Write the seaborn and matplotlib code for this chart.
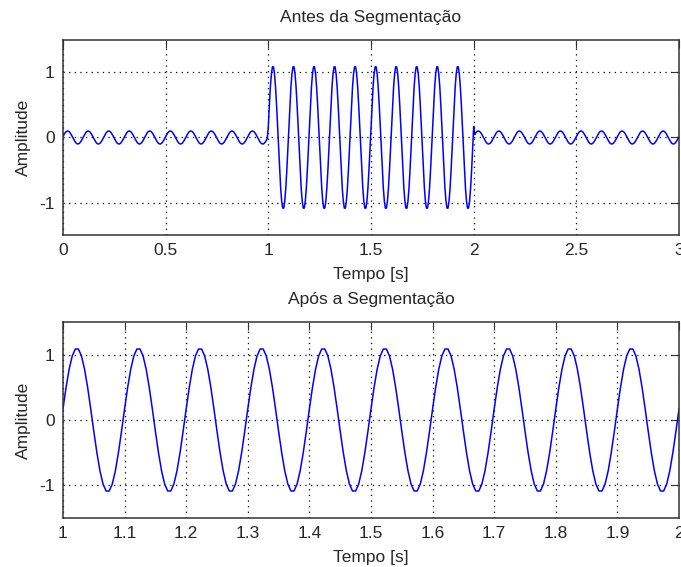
import numpy as np
import pandas as pd
import matplotlib
matplotlib.use("Agg")
import matplotlib.pyplot as plt
import seaborn as sns

# Signal description: a 10 Hz sine whose amplitude changes per segment
seg_edges = [0.0, 1.0, 2.0, 3.0]        # segment boundaries [s]
seg_amp = [0.1, 1.1, 0.1]               # amplitude in each segment
freq_hz = 10.0                          # sine frequency
phase_rad = 0.157                       # initial phase
fs_hz = 200                             # sampling rate

top_xticks = [0, 0.5, 1, 1.5, 2, 2.5, 3]
top_xlabels = ["0", "0.5", "1", "1.5", "2", "2.5", "3"]
bot_xticks = [1.0, 1.1, 1.2, 1.3, 1.4, 1.5, 1.6, 1.7, 1.8, 1.9, 2.0]
bot_xlabels = ["1", "1.1", "1.2", "1.3", "1.4", "1.5", "1.6", "1.7", "1.8", "1.9", "2"]
yticks = [-1, 0, 1]
ylabels = ["-1", "0", "1"]

titles = ["Antes da Segmentação", "Após a Segmentação"]
xlabel = "Tempo [s]"
ylabel = "Amplitude"

# sampled signal
t = np.arange(seg_edges[0], seg_edges[-1] + 1e-9, 1.0 / fs_hz)
amp = np.select(
    [(t >= seg_edges[i]) & (t < seg_edges[i + 1]) if i < len(seg_amp) - 1
     else (t >= seg_edges[i]) for i in range(len(seg_amp))],
    seg_amp)
amp[np.isclose(t, seg_edges[2])] = seg_amp[1]
x = amp * np.sin(2 * np.pi * freq_hz * t + phase_rad)
df = pd.DataFrame({"t": t, "x": x})
seg = df[(df.t >= seg_edges[1] - 1e-9) & (df.t <= seg_edges[2] + 1e-9)]

sns.set_style("white")
plt.rcParams["font.family"] = ["Liberation Sans", "DejaVu Sans"]
plt.rcParams["font.size"] = 12.5

fig = plt.figure(figsize=(6.81, 5.67), dpi=100)
ax1 = fig.add_axes([0.0925, 0.5855, 0.9046, 0.344])
ax2 = fig.add_axes([0.0925, 0.0864, 0.9046, 0.3457])

panels = [
    (ax1, df, (0, 3), top_xticks, top_xlabels, titles[0]),
    (ax2, seg, (1, 2), bot_xticks, bot_xlabels, titles[1]),
]
for ax, data, xlim, xt, xl, title in panels:
    sns.lineplot(data=data, x="t", y="x", ax=ax, color="#0000ff",
                 linewidth=1.1, estimator=None, sort=False)
    ax.set_xlim(*xlim)
    ax.set_ylim(-1.5, 1.5)
    ax.set_xticks(xt)
    ax.set_xticklabels(xl)
    ax.set_yticks(yticks)
    ax.set_yticklabels(ylabels)
    ax.grid(True, color="black", linestyle=(0, (1, 3.5)), linewidth=0.9)
    ax.tick_params(direction="in", length=6, width=0.8, color="#333333",
                   top=True, right=True, labelsize=12.5, pad=6)
    for s in ax.spines.values():
        s.set_color("#333333")
        s.set_linewidth(1.1)
    ax.set_title(title, fontsize=12.5, pad=13)
    ax.set_xlabel(xlabel, fontsize=12.5, labelpad=6)
    ax.set_ylabel(ylabel, fontsize=12.5, labelpad=6)

fig.savefig("out.png", dpi=100, facecolor="white")
